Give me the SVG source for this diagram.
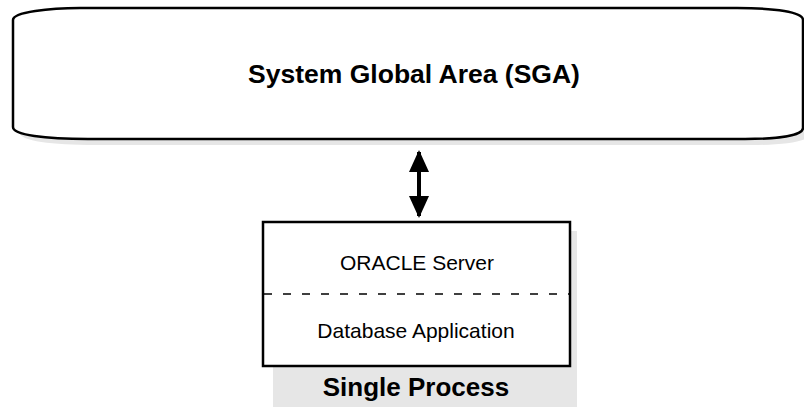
<svg xmlns="http://www.w3.org/2000/svg" width="804" height="407" viewBox="0 0 804 407">
<style>
.ol{fill:#fff;stroke:#000;stroke-width:2.5}
.sh{fill:#e6e6e6;stroke:none}
.t{font-family:"Liberation Sans",Arial,sans-serif;fill:#000;text-anchor:middle}
.b{font-weight:bold}
</style>
<defs>
<marker id="ah" viewBox="0 0 22 20" refX="20" refY="10" markerWidth="22" markerHeight="20" markerUnits="userSpaceOnUse" orient="auto-start-reverse">
<path d="M0,0 L22,10 L0,20 Z" fill="#000"/>
</marker>
</defs>
<g id="sga">
<path class="sh" d="M20,133 L20,26 C20,18 57,14 87,14 L744,14 C782,14 810,18 810,26 L810,134 C810,141 787,145 752,145 L95,145 C52,145 20,141 20,133 Z"/>
<path class="ol" d="M13,127 L13,20 C13,12 50,8 80,8 L737,8 C775,8 803,12 803,20 L803,128 C803,135 780,139 745,139 L88,139 C45,139 13,135 13,127 Z"/>
<text class="t b" x="414" y="83" font-size="26.5">System Global Area (SGA)</text>
</g>
<g id="process">
<rect class="sh" x="273" y="231" width="304" height="176"/>
<rect class="ol" x="263" y="222" width="307" height="144" stroke-width="2"/>
<line x1="264" y1="294" x2="569" y2="294" stroke="#000" stroke-width="1.3" stroke-dasharray="8,11"/>
<text class="t" x="417" y="270" font-size="21">ORACLE Server</text>
<text class="t" x="416" y="338" font-size="21">Database Application</text>
<text class="t b" x="416" y="396" font-size="26">Single Process</text>
</g>
<g id="connectors">
<line x1="419" y1="152" x2="419" y2="216" stroke="#000" stroke-width="4" marker-start="url(#ah)" marker-end="url(#ah)"/>
</g>
</svg>
